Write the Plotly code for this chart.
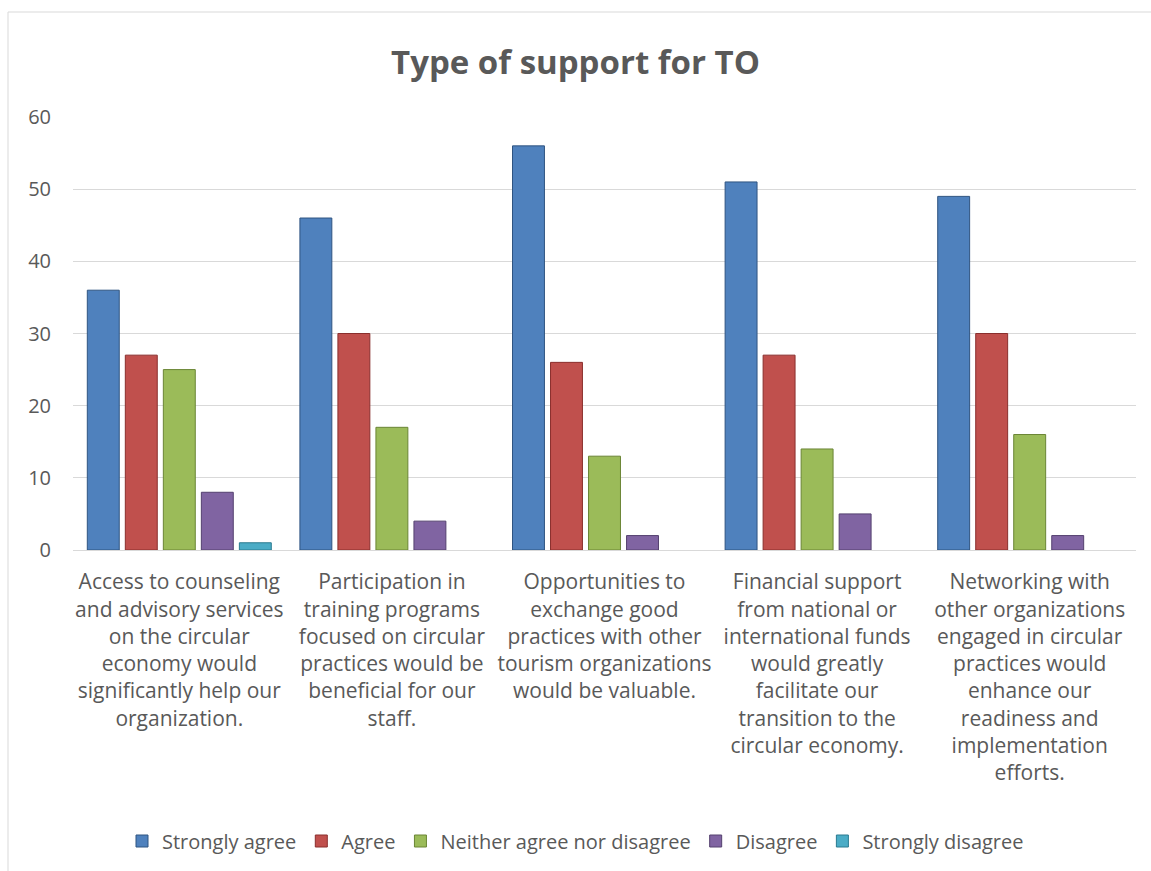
import plotly.graph_objects as go

categories = [
    "Access to counseling<br>and advisory services<br>on the circular<br>economy would<br>significantly help our<br>organization.",
    "Participation in<br>training programs<br>focused on circular<br>practices would be<br>beneficial for our<br>staff.",
    "Opportunities to<br>exchange good<br>practices with other<br>tourism organizations<br>would be valuable.",
    "Financial support<br>from national or<br>international funds<br>would greatly<br>facilitate our<br>transition to the<br>circular economy.",
    "Networking with<br>other organizations<br>engaged in circular<br>practices would<br>enhance our<br>readiness and<br>implementation<br>efforts.",
]
strongly_agree = [36, 46, 56, 51, 49]
agree = [27, 30, 26, 27, 30]
neither = [25, 17, 13, 14, 16]
disagree = [8, 4, 2, 5, 2]
strongly_disagree = [1, None, None, None, None]

series = [
    ("Strongly agree", strongly_agree, "#4F81BD", "#2F5481"),
    ("Agree", agree, "#C0504D", "#8A2F2D"),
    ("Neither agree nor disagree", neither, "#9BBB59", "#6A8535"),
    ("Disagree", disagree, "#8064A2", "#54406F"),
    ("Strongly disagree", strongly_disagree, "#4BACC6", "#2A7A90"),
]

FONT = "Open Sans"
fig = go.Figure()
for name, vals, col, edge in series:
    fig.add_trace(go.Bar(
        name=name, x=categories, y=vals,
        marker=dict(color=col, line=dict(color=edge, width=1)),
    ))

W, H = 1151, 871
L, R, T, B = 73, 15, 117, 321
pw, ph = W - L - R, H - T - B

fig.update_layout(
    width=W, height=H,
    margin=dict(l=L, r=R, t=T, b=B),
    paper_bgcolor="white", plot_bgcolor="white",
    barmode="group", bargap=0.106, bargroupgap=0.16,
    font=dict(family=FONT, color="#595959", size=20),
    title=dict(text="<b>Type of support for TO</b>", x=0.5, xref="container",
               xanchor="center", y=1 - 62 / H, yanchor="middle",
               font=dict(family=FONT, size=33, color="#595959")),
    yaxis=dict(range=[0, 60], dtick=10, showgrid=True, gridcolor="#D9D9D9",
               gridwidth=1, zeroline=False, showline=False,
               tickfont=dict(size=20, color="#595959"), ticks="", ticklabelstandoff=21),
    xaxis=dict(showline=True, linecolor="#D9D9D9", linewidth=1, ticks="",
               tickfont=dict(size=21, color="#595959"), tickangle=0,
               ticklabelstandoff=13),
    legend=dict(orientation="h", x=0.5, xanchor="center", xref="container",
                y=1 - 841 / H, yref="container", yanchor="middle",
                font=dict(size=20, color="#595959"), itemwidth=30,
                traceorder="normal"),
    showlegend=True,
)
fig.add_shape(type="rect", xref="paper", yref="paper",
              x0=(8 - L) / pw, x1=1.05, y0=-(H - 550 + 20) / ph, y1=1 + (T - 12) / ph,
              line=dict(color="#D9D9D9", width=1), fillcolor="rgba(0,0,0,0)", layer="below")

fig.write_html("out.html")
